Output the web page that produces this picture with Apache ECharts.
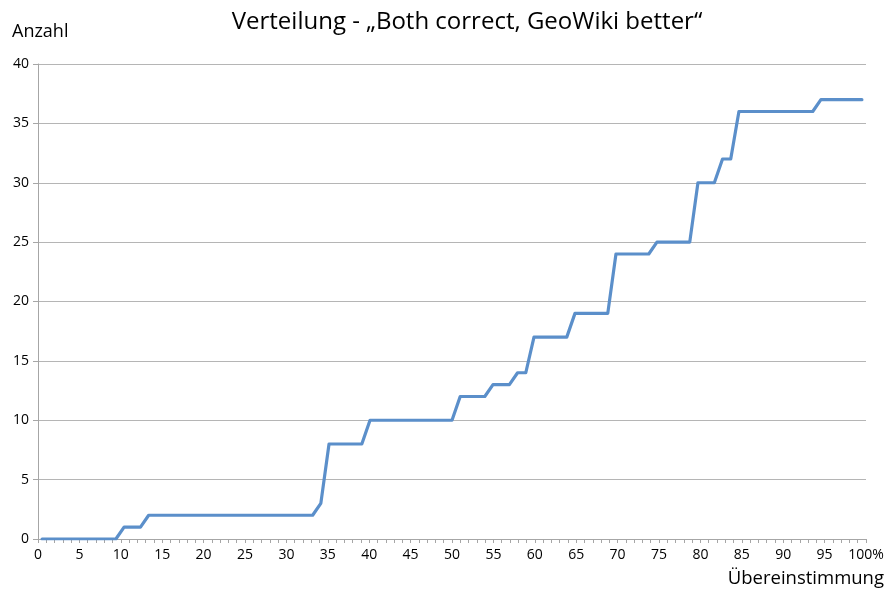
<!DOCTYPE html>
<html>
<head>
<meta charset="utf-8">
<script src="https://cdn.jsdelivr.net/npm/echarts@6/dist/echarts.min.js"></script>
<style>
  html, body { margin: 0; padding: 0; background: #fff; }
  #chart { width: 888px; height: 592px; }
</style>
</head>
<body>
<div id="chart"></div>
<script>
// Agreement percentages 0..100 (one category per percent)
const categories = Array.from({ length: 101 }, (_, i) => i);

// Cumulative count ("Anzahl") per agreement percentage
const counts = [
  0, 0, 0, 0, 0, 0, 0, 0, 0, 0,        // 0-9
  1, 1, 1,                             // 10-12
  2, 2, 2, 2, 2, 2, 2, 2, 2, 2,        // 13-22
  2, 2, 2, 2, 2, 2, 2, 2, 2, 2, 2,     // 23-33
  3,                                   // 34
  8, 8, 8, 8, 8,                       // 35-39
  10, 10, 10, 10, 10, 10, 10, 10, 10, 10, 10, // 40-50
  12, 12, 12, 12,                      // 51-54
  13, 13, 13,                          // 55-57
  14, 14,                              // 58-59
  17, 17, 17, 17, 17,                  // 60-64
  19, 19, 19, 19, 19,                  // 65-69
  24, 24, 24, 24, 24,                  // 70-74
  25, 25, 25, 25, 25,                  // 75-79
  30, 30, 30,                          // 80-82
  32, 32,                              // 83-84
  36, 36, 36, 36, 36, 36, 36, 36, 36, 36, // 85-94
  37, 37, 37, 37, 37, 37               // 95-100
];

// Tick labels on the axes
const xTicks = [0, 5, 10, 15, 20, 25, 30, 35, 40, 45, 50, 55, 60, 65, 70, 75, 80, 85, 90, 95, 100];
const yTicks = [0, 5, 10, 15, 20, 25, 30, 35, 40];

const titleText = 'Verteilung - \u201EBoth correct, GeoWiki better\u201C';
const yName = 'Anzahl';
const xName = '\u00DCbereinstimmung';

const FONT = '"Open Sans", "Noto Sans", sans-serif';
const chart = echarts.init(document.getElementById('chart'), null, { renderer: 'canvas' });

chart.setOption({
  animation: false,
  backgroundColor: '#ffffff',
  title: {
    text: titleText,
    left: 462,
    top: 5,
    textAlign: 'center',
    textStyle: { fontFamily: FONT, fontSize: 24, fontWeight: 'normal', color: '#000' }
  },
  graphic: [
    {
      type: 'text', left: 12, top: 23,
      style: { text: yName, fontFamily: FONT, fontSize: 18, fill: '#000' }
    },
    {
      type: 'text', right: 4, top: 569,
      style: { text: xName, fontFamily: FONT, fontSize: 18.5, fill: '#000' }
    }
  ],
  grid: { left: 38, right: 22, top: 64, bottom: 53, containLabel: false },
  xAxis: [
    {
      // data axis: one slot per percent
      type: 'category',
      data: categories,
      boundaryGap: true,
      show: false
    },
    {
      // scale axis drawn under the plot
      type: 'value',
      min: 0, max: 100, interval: 5,
      position: 'bottom',
      axisLine: { show: true, lineStyle: { color: '#a6a6a6', width: 1 } },
      axisTick: { show: true, length: 4, lineStyle: { color: '#a6a6a6' } },
      minorTick: { show: true, splitNumber: 5, length: 4, lineStyle: { color: '#a6a6a6' } },
      splitLine: { show: false },
      axisLabel: {
        fontFamily: FONT, fontSize: 14, color: '#000', margin: 9,
        formatter: v => xTicks.includes(v) ? (v === 100 ? v + '%' : String(v)) : ''
      }
    }
  ],
  yAxis: {
    type: 'value',
    min: 0, max: 40, interval: 5,
    axisLine: { show: true, lineStyle: { color: '#a6a6a6', width: 1 } },
    axisTick: { show: true, length: 5, lineStyle: { color: '#a6a6a6' } },
    splitLine: { show: true, lineStyle: { color: '#b5b5b5', width: 1 } },
    axisLabel: {
      fontFamily: FONT, fontSize: 14, color: '#000', margin: 9,
      formatter: v => yTicks.includes(v) ? String(v) : ''
    }
  },
  series: [
    {
      type: 'line',
      xAxisIndex: 0,
      data: counts,
      showSymbol: false,
      symbol: 'none',
      lineStyle: { color: '#5b8fca', width: 3.2, join: 'round', cap: 'round' }
    }
  ]
});
</script>
</body>
</html>
